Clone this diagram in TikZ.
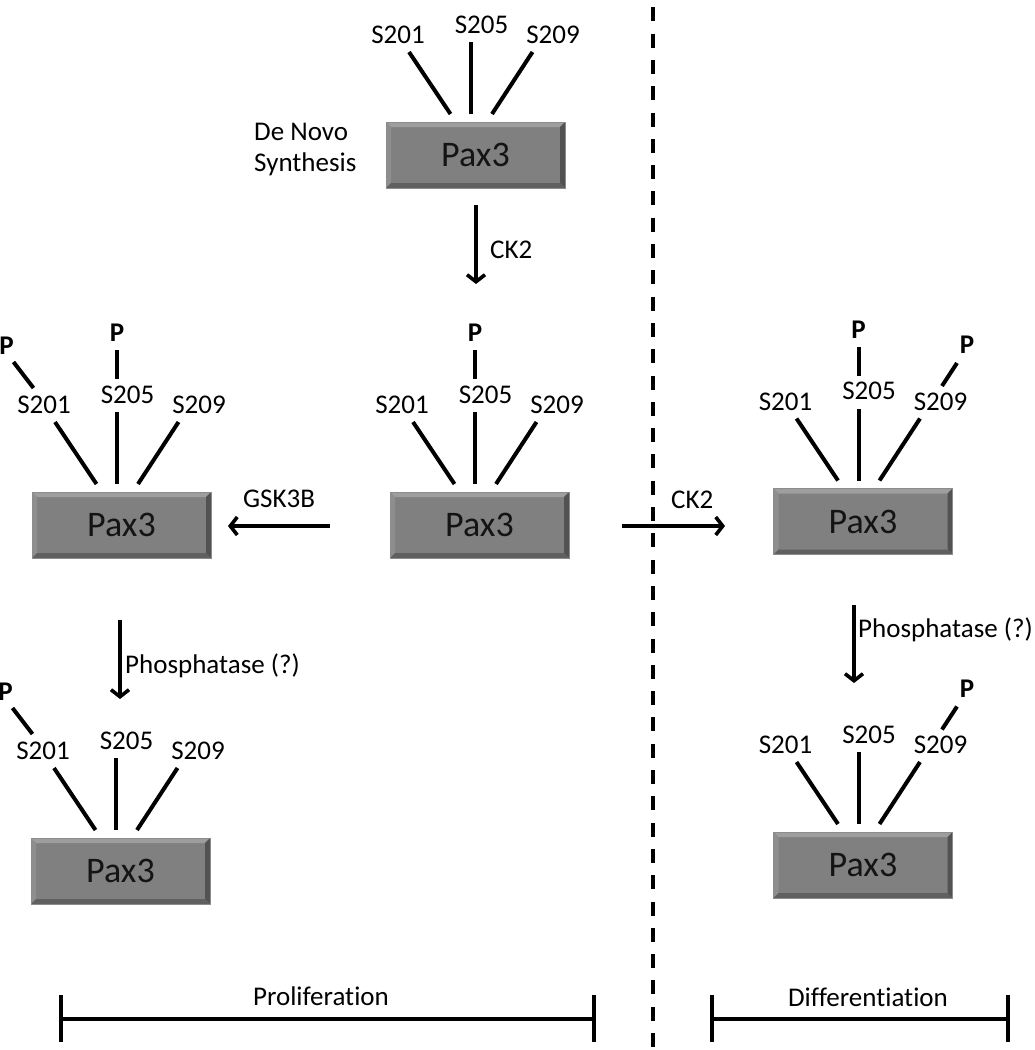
\documentclass[tikz,border=0pt]{standalone}
\usepackage{fontspec}
\setmainfont{Carlito}[Ligatures=NoCommon]
\usetikzlibrary{arrows.meta,calc}
\definecolor{boxgray}{RGB}{128,128,128}
\definecolor{bevtop}{RGB}{158,158,158}
\definecolor{bevleft}{RGB}{142,142,142}
\definecolor{bevright}{RGB}{82,82,82}
\definecolor{bevbot}{RGB}{96,96,96}
\definecolor{inkcol}{RGB}{0,0,0}
\tikzset{
  paxbox/.style={minimum width=179pt, minimum height=66pt, inner sep=0pt,
    fill=boxgray, draw=black!45, line width=0.8pt,
    font=\fontsize{36}{40}\selectfont, text=black!92,
    path picture={
      \path (path picture bounding box.north west) coordinate (ppnw)
            (path picture bounding box.north east) coordinate (ppne)
            (path picture bounding box.south west) coordinate (ppsw)
            (path picture bounding box.south east) coordinate (ppse);
      \fill[bevtop] (ppnw) -- (ppne) -- ([shift={(-5pt,-5pt)}]ppne) -- ([shift={(5pt,-5pt)}]ppnw) -- cycle;
      \fill[bevleft] (ppnw) -- (ppsw) -- ([shift={(5pt,5pt)}]ppsw) -- ([shift={(5pt,-5pt)}]ppnw) -- cycle;
      \fill[bevright] (ppne) -- (ppse) -- ([shift={(-5pt,5pt)}]ppse) -- ([shift={(-5pt,-5pt)}]ppne) -- cycle;
      \fill[bevbot] (ppsw) -- (ppse) -- ([shift={(-5pt,5pt)}]ppse) -- ([shift={(5pt,5pt)}]ppsw) -- cycle;
    }},
  site/.style={inner sep=0pt, font=\fontsize{27}{31}\selectfont},
  phos/.style={inner sep=0pt, font=\fontsize{27}{31}\selectfont\bfseries},
  lbl/.style={inner sep=0pt, anchor=base west, font=\fontsize{27}{31}\selectfont},
  stem/.style={line width=4pt, draw=inkcol},
  arr/.style={line width=3.6pt, draw=inkcol, -{Straight Barb[length=7pt,width=18pt]}},
  barline/.style={line width=4pt, draw=inkcol},
}
\newcommand\paxunit[6]{%
  \begin{scope}[shift={(#2)}]
    \node[paxbox] (#1) at (0,0) {Pax3};
    \node[site] (#1-l201) at (-77.5,-120) {S201};
    \node[site] (#1-l205) at (6,-130.5) {S205};
    \node[site] (#1-l209) at (77.5,-120) {S209};
    \draw[stem] (-66.5,-103) -- (-25,-41);
    \draw[stem] (-4.5,-113) -- (-4.5,-41);
    \draw[stem] (57,-103) -- (16.5,-41);
    \ifnum#3=1\relax
      \draw[stem] (-88,-137) -- (-108,-163);
      \node[phos] (#1-p201) at (-115,-179) {P};
    \fi
    \ifnum#4=1\relax
      \draw[stem] (-4.5,-146) -- (-4.5,-175);
      \node[phos] (#1-p205) at (-4.5,-192) {P};
    \fi
    \ifnum#5=1\relax
      \draw[stem] (79,-135.5) -- (94,-158.5);
      \node[phos] (#1-p209) at (104,-176.5) {P};
    \fi
    #6%
  \end{scope}}
\begin{document}
\begin{tikzpicture}[x=1pt,y=-1pt]
  \useasboundingbox[fill=white] (0,0) rectangle (1034,1050);
  % dashed separator
  \coordinate (sepT) at (653,0);
  \coordinate (sepB) at (653,1050);
  \draw[line width=4pt, draw=inkcol, dash pattern=on 14pt off 12.3pt, dash phase=19pt] (sepT) -- (sepB);

  \paxunit{b0}{475.5,155}{0}{0}{0}{}
  \paxunit{b1}{479.5,525}{0}{1}{0}{}
  \paxunit{b2}{121.5,525}{1}{1}{0}{}
  \paxunit{b3}{863,521.5}{0}{1}{1}{}
  \paxunit{b4}{120.5,871}{1}{0}{0}{}
  \paxunit{b5}{863,865}{0}{0}{1}{}

  \node[lbl] (denovo) at (254,140) {De Novo};
  \node[lbl] (synth) at (254,171) {Synthesis};

  % arrows
  \coordinate (a1s) at (476,205); \coordinate (a1e) at (476,284);
  \draw[arr] (a1s) -- (a1e);
  \node[lbl] (ck2a) at (490,258) {CK2};

  \coordinate (a2s) at (330,526); \coordinate (a2e) at (228,526);
  \draw[arr] (a2s) -- (a2e);
  \node[lbl] (gsk) at (243,507) {GSK3B};

  \coordinate (a3s) at (622,526); \coordinate (a3e) at (725,526);
  \draw[arr] (a3s) -- (a3e);
  \node[lbl] (ck2b) at (671,508) {CK2};

  \coordinate (a4s) at (120,620); \coordinate (a4e) at (120,699);
  \draw[arr] (a4s) -- (a4e);
  \node[lbl] (phosA) at (125,673) {Phosphatase (?)};

  \coordinate (a5s) at (854,605); \coordinate (a5e) at (854,683);
  \draw[arr] (a5s) -- (a5e);
  \node[lbl] (phosB) at (858,637) {Phosphatase (?)};

  % bottom bars
  \coordinate (pl) at (61,1019); \coordinate (pr) at (594,1019);
  \draw[barline] (pl) -- (pr);
  \draw[barline] ([yshift=24pt]pl) -- ([yshift=-23pt]pl);
  \draw[barline] ([yshift=24pt]pr) -- ([yshift=-23pt]pr);
  \node[inner sep=0pt, anchor=base, font=\fontsize{27}{31}\selectfont] (prolif) at (321,1005) {Proliferation};

  \coordinate (dl) at (712,1019); \coordinate (dr) at (1008,1019);
  \draw[barline] (dl) -- (dr);
  \draw[barline] ([yshift=24pt]dl) -- ([yshift=-23pt]dl);
  \draw[barline] ([yshift=24pt]dr) -- ([yshift=-23pt]dr);
  \node[inner sep=0pt, anchor=base, font=\fontsize{27}{31}\selectfont] (diff) at (868,1006) {Differentiation};
\end{tikzpicture}
\end{document}
